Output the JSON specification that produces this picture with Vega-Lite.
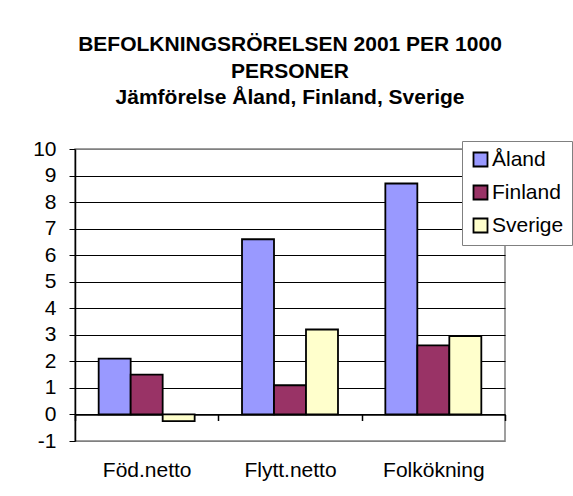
{
  "$schema": "https://vega.github.io/schema/vega-lite/v6.json",
  "autosize": "none",
  "width": 430,
  "height": 292,
  "padding": {"left": 75, "top": 149, "right": 68, "bottom": 55},
  "background": "white",
  "title": {
    "text": ["BEFOLKNINGSRÖRELSEN 2001 PER 1000", "PERSONER"],
    "subtitle": "Jämförelse Åland, Finland, Sverige",
    "anchor": "middle",
    "frame": "group",
    "font": "Liberation Sans",
    "fontSize": 21,
    "fontWeight": "bold",
    "color": "black",
    "lineHeight": 27.5,
    "subtitleFont": "Liberation Sans",
    "subtitleFontSize": 21,
    "subtitleFontWeight": "bold",
    "subtitleColor": "black",
    "subtitleLineHeight": 27.5,
    "subtitlePadding": 5,
    "offset": 30
  },
  "data": {
    "values": [
      {"kategori": "Föd.netto", "region": "Åland", "varde": 2.1},
      {"kategori": "Föd.netto", "region": "Finland", "varde": 1.5},
      {"kategori": "Föd.netto", "region": "Sverige", "varde": -0.25},
      {"kategori": "Flytt.netto", "region": "Åland", "varde": 6.6},
      {"kategori": "Flytt.netto", "region": "Finland", "varde": 1.1},
      {"kategori": "Flytt.netto", "region": "Sverige", "varde": 3.2},
      {"kategori": "Folkökning", "region": "Åland", "varde": 8.7},
      {"kategori": "Folkökning", "region": "Finland", "varde": 2.6},
      {"kategori": "Folkökning", "region": "Sverige", "varde": 2.95}
    ]
  },
  "mark": {"type": "bar", "stroke": "black", "strokeWidth": 1.8},
  "encoding": {
    "x": {
      "field": "kategori",
      "type": "nominal",
      "sort": ["Föd.netto", "Flytt.netto", "Folkökning"],
      "scale": {"paddingInner": 0, "paddingOuter": 0},
      "axis": {
        "title": null,
        "offset": -26.5,
        "labelAngle": 0,
        "labelFont": "Liberation Sans",
        "labelFontSize": 21,
        "labelColor": "black",
        "labelPadding": 39,
        "tickBand": "extent",
        "tickColor": "black",
        "tickSize": 6,
        "tickWidth": 1.5,
        "domainColor": "black",
        "domainWidth": 1.5,
        "grid": false
      }
    },
    "xOffset": {
      "field": "region",
      "type": "nominal",
      "sort": ["Åland", "Finland", "Sverige"],
      "scale": {"paddingInner": 0, "paddingOuter": 0.74}
    },
    "y": {
      "field": "varde",
      "type": "quantitative",
      "scale": {"domain": [-1, 10], "nice": false, "zero": false},
      "axis": {
        "title": null,
        "values": [-1, 0, 1, 2, 3, 4, 5, 6, 7, 8, 9, 10],
        "labelExpr": "datum.value < 0 ? '-' + abs(datum.value) : datum.label",
        "labelFont": "Liberation Sans",
        "labelFontSize": 21,
        "labelColor": "black",
        "labelPadding": 13,
        "tickColor": "black",
        "tickSize": 6,
        "tickWidth": 1,
        "domainColor": "black",
        "domainWidth": 1.5,
        "grid": true,
        "gridColor": {"condition": {"test": "datum.value == 10 || datum.value == -1", "value": "#808080"}, "value": "black"},
        "gridWidth": 1,
        "gridOpacity": 1
      }
    },
    "color": {
      "field": "region",
      "type": "nominal",
      "sort": ["Åland", "Finland", "Sverige"],
      "scale": {"domain": ["Åland", "Finland", "Sverige"], "range": ["#9999FF", "#993366", "#FFFFCC"]},
      "legend": {
        "title": null,
        "orient": "none",
        "legendX": 387,
        "legendY": -8,
        "fillColor": "white",
        "strokeColor": "#808080",
        "padding": 8,
        "symbolType": "square",
        "symbolSize": 196,
        "symbolStrokeColor": "black",
        "symbolStrokeWidth": 1.8,
        "symbolOpacity": 1,
        "labelFont": "Liberation Sans",
        "labelFontSize": 21,
        "labelColor": "black",
        "labelOffset": 1,
        "rowPadding": 10
      }
    }
  },
  "config": {
    "view": {"stroke": "#808080", "strokeWidth": 1.5}
  }
}
